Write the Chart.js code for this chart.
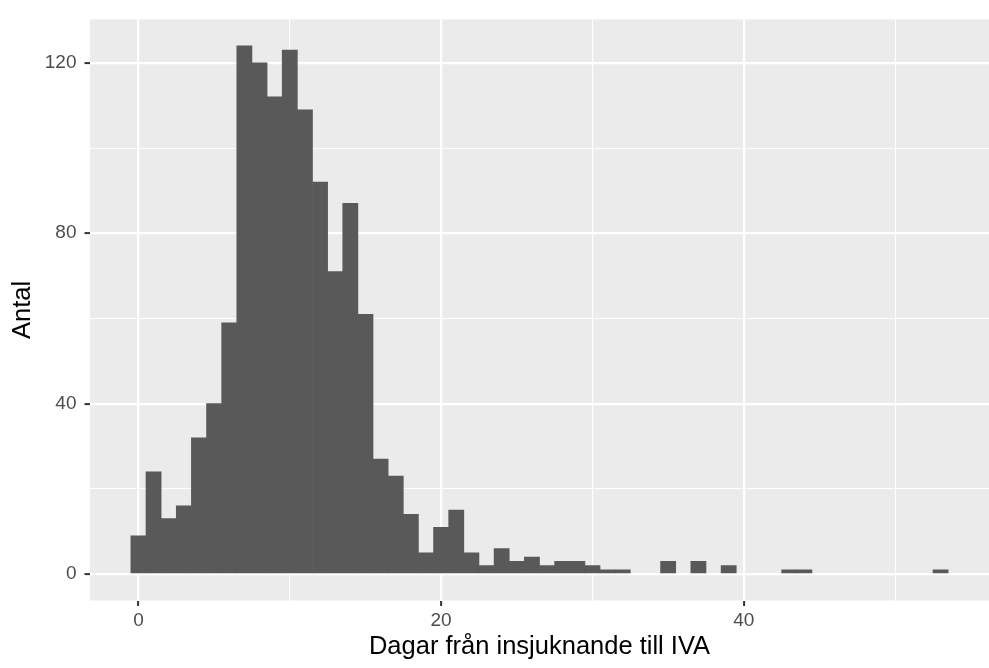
<!DOCTYPE html>
<html>
<head>
<meta charset="utf-8">
<script src="https://cdn.jsdelivr.net/npm/chart.js@4.4.1/dist/chart.umd.min.js"></script>
<style>
  html, body { margin: 0; padding: 0; background: #ffffff; }
  #wrap { width: 989px; height: 668px; }
</style>
</head>
<body>
<div id="wrap"><canvas id="c" width="989" height="668"></canvas></div>
<script>
// Histogram bins (days from symptom onset to ICU admission), one bin per day
const bins = [0,1,2,3,4,5,6,7,8,9,10,11,12,13,14,15,16,17,18,19,20,21,22,23,24,25,26,27,28,29,30,31,32,33,34,35,36,37,38,39,40,41,42,43,44,45,46,47,48,49,50,51,52,53];
const counts = [9,24,13,16,32,40,59,124,120,112,123,109,92,71,87,61,27,23,14,5,11,15,5,2,6,3,4,2,3,3,2,1,1,0,0,3,0,3,0,2,0,0,0,1,1,0,0,0,0,0,0,0,0,1];

const xMajorTicks = [0, 20, 40];
const xMinorTicks = [10, 30, 50];
const yMajorTicks = [0, 40, 80, 120];
const yMinorTicks = [20, 60, 100];

const xTitle = 'Dagar från insjuknande till IVA';
const yTitle = 'Antal';

const FONT = "'Liberation Sans', Arial, Helvetica, sans-serif";
// empty bins are not drawn
const points = bins.map((b, i) => ({ x: b, y: counts[i] === 0 ? null : counts[i] }));

const panelBg = {
  id: 'panelBg',
  beforeDraw(chart) {
    const { ctx, chartArea: a } = chart;
    ctx.save();
    ctx.fillStyle = '#EBEBEB';
    ctx.fillRect(a.left, a.top, a.right - a.left, a.bottom - a.top);
    ctx.restore();
  }
};

function gridOpts(majors) {
  return {
    offset: false,
    color: '#FFFFFF',
    lineWidth: (ctx) => (ctx.tick && majors.includes(ctx.tick.value)) ? 2.2 : 1.1,
    tickColor: (ctx) => (ctx.tick && majors.includes(ctx.tick.value)) ? '#333333' : 'rgba(0,0,0,0)',
    tickWidth: 2,
    tickLength: 5.5,
    drawTicks: true
  };
}

new Chart(document.getElementById('c'), {
  type: 'bar',
  data: {
    datasets: [{
      data: points,
      backgroundColor: '#595959',
      borderWidth: 0,
      barPercentage: 1.0,
      categoryPercentage: 1.0
    }]
  },
  options: {
    responsive: false,
    animation: false,
    devicePixelRatio: 1,
    layout: { padding: { top: 18.5, right: 0, bottom: 0, left: 0 } },
    plugins: {
      legend: { display: false },
      tooltip: { enabled: false },
      title: { display: false }
    },
    scales: {
      x: {
        type: 'linear',
        offset: false,
        min: -3.2,
        max: 56.2,
        afterBuildTicks: (s) => { s.ticks = [...xMajorTicks, ...xMinorTicks].sort((a,b)=>a-b).map(v => ({ value: v })); },
        afterFit: (s) => { s.height = 67.5; },
        border: { display: false },
        grid: gridOpts(xMajorTicks),
        ticks: {
          autoSkip: false,
          maxRotation: 0,
          padding: 3,
          color: '#4D4D4D',
          font: { family: FONT, size: 19 },
          callback: (v) => xMajorTicks.includes(v) ? String(v) : ''
        },
        title: {
          display: true,
          text: xTitle,
          color: '#000000',
          font: { family: FONT, size: 25.5 },
          padding: { top: 0, bottom: 6 }
        }
      },
      y: {
        type: 'linear',
        min: -6.2,
        max: 130.2,
        afterBuildTicks: (s) => { s.ticks = [...yMajorTicks, ...yMinorTicks].sort((a,b)=>a-b).map(v => ({ value: v })); },
        afterFit: (s) => { s.width = 90; },
        border: { display: false },
        grid: gridOpts(yMajorTicks),
        ticks: {
          autoSkip: false,
          padding: 8,
          color: '#4D4D4D',
          font: { family: FONT, size: 19 },
          callback: (v) => yMajorTicks.includes(v) ? String(v) : ''
        },
        title: {
          display: true,
          text: yTitle,
          color: '#000000',
          font: { family: FONT, size: 25.5 },
          padding: { top: 8, bottom: 0 }
        }
      }
    }
  },
  plugins: [panelBg]
});
</script>
</body>
</html>
